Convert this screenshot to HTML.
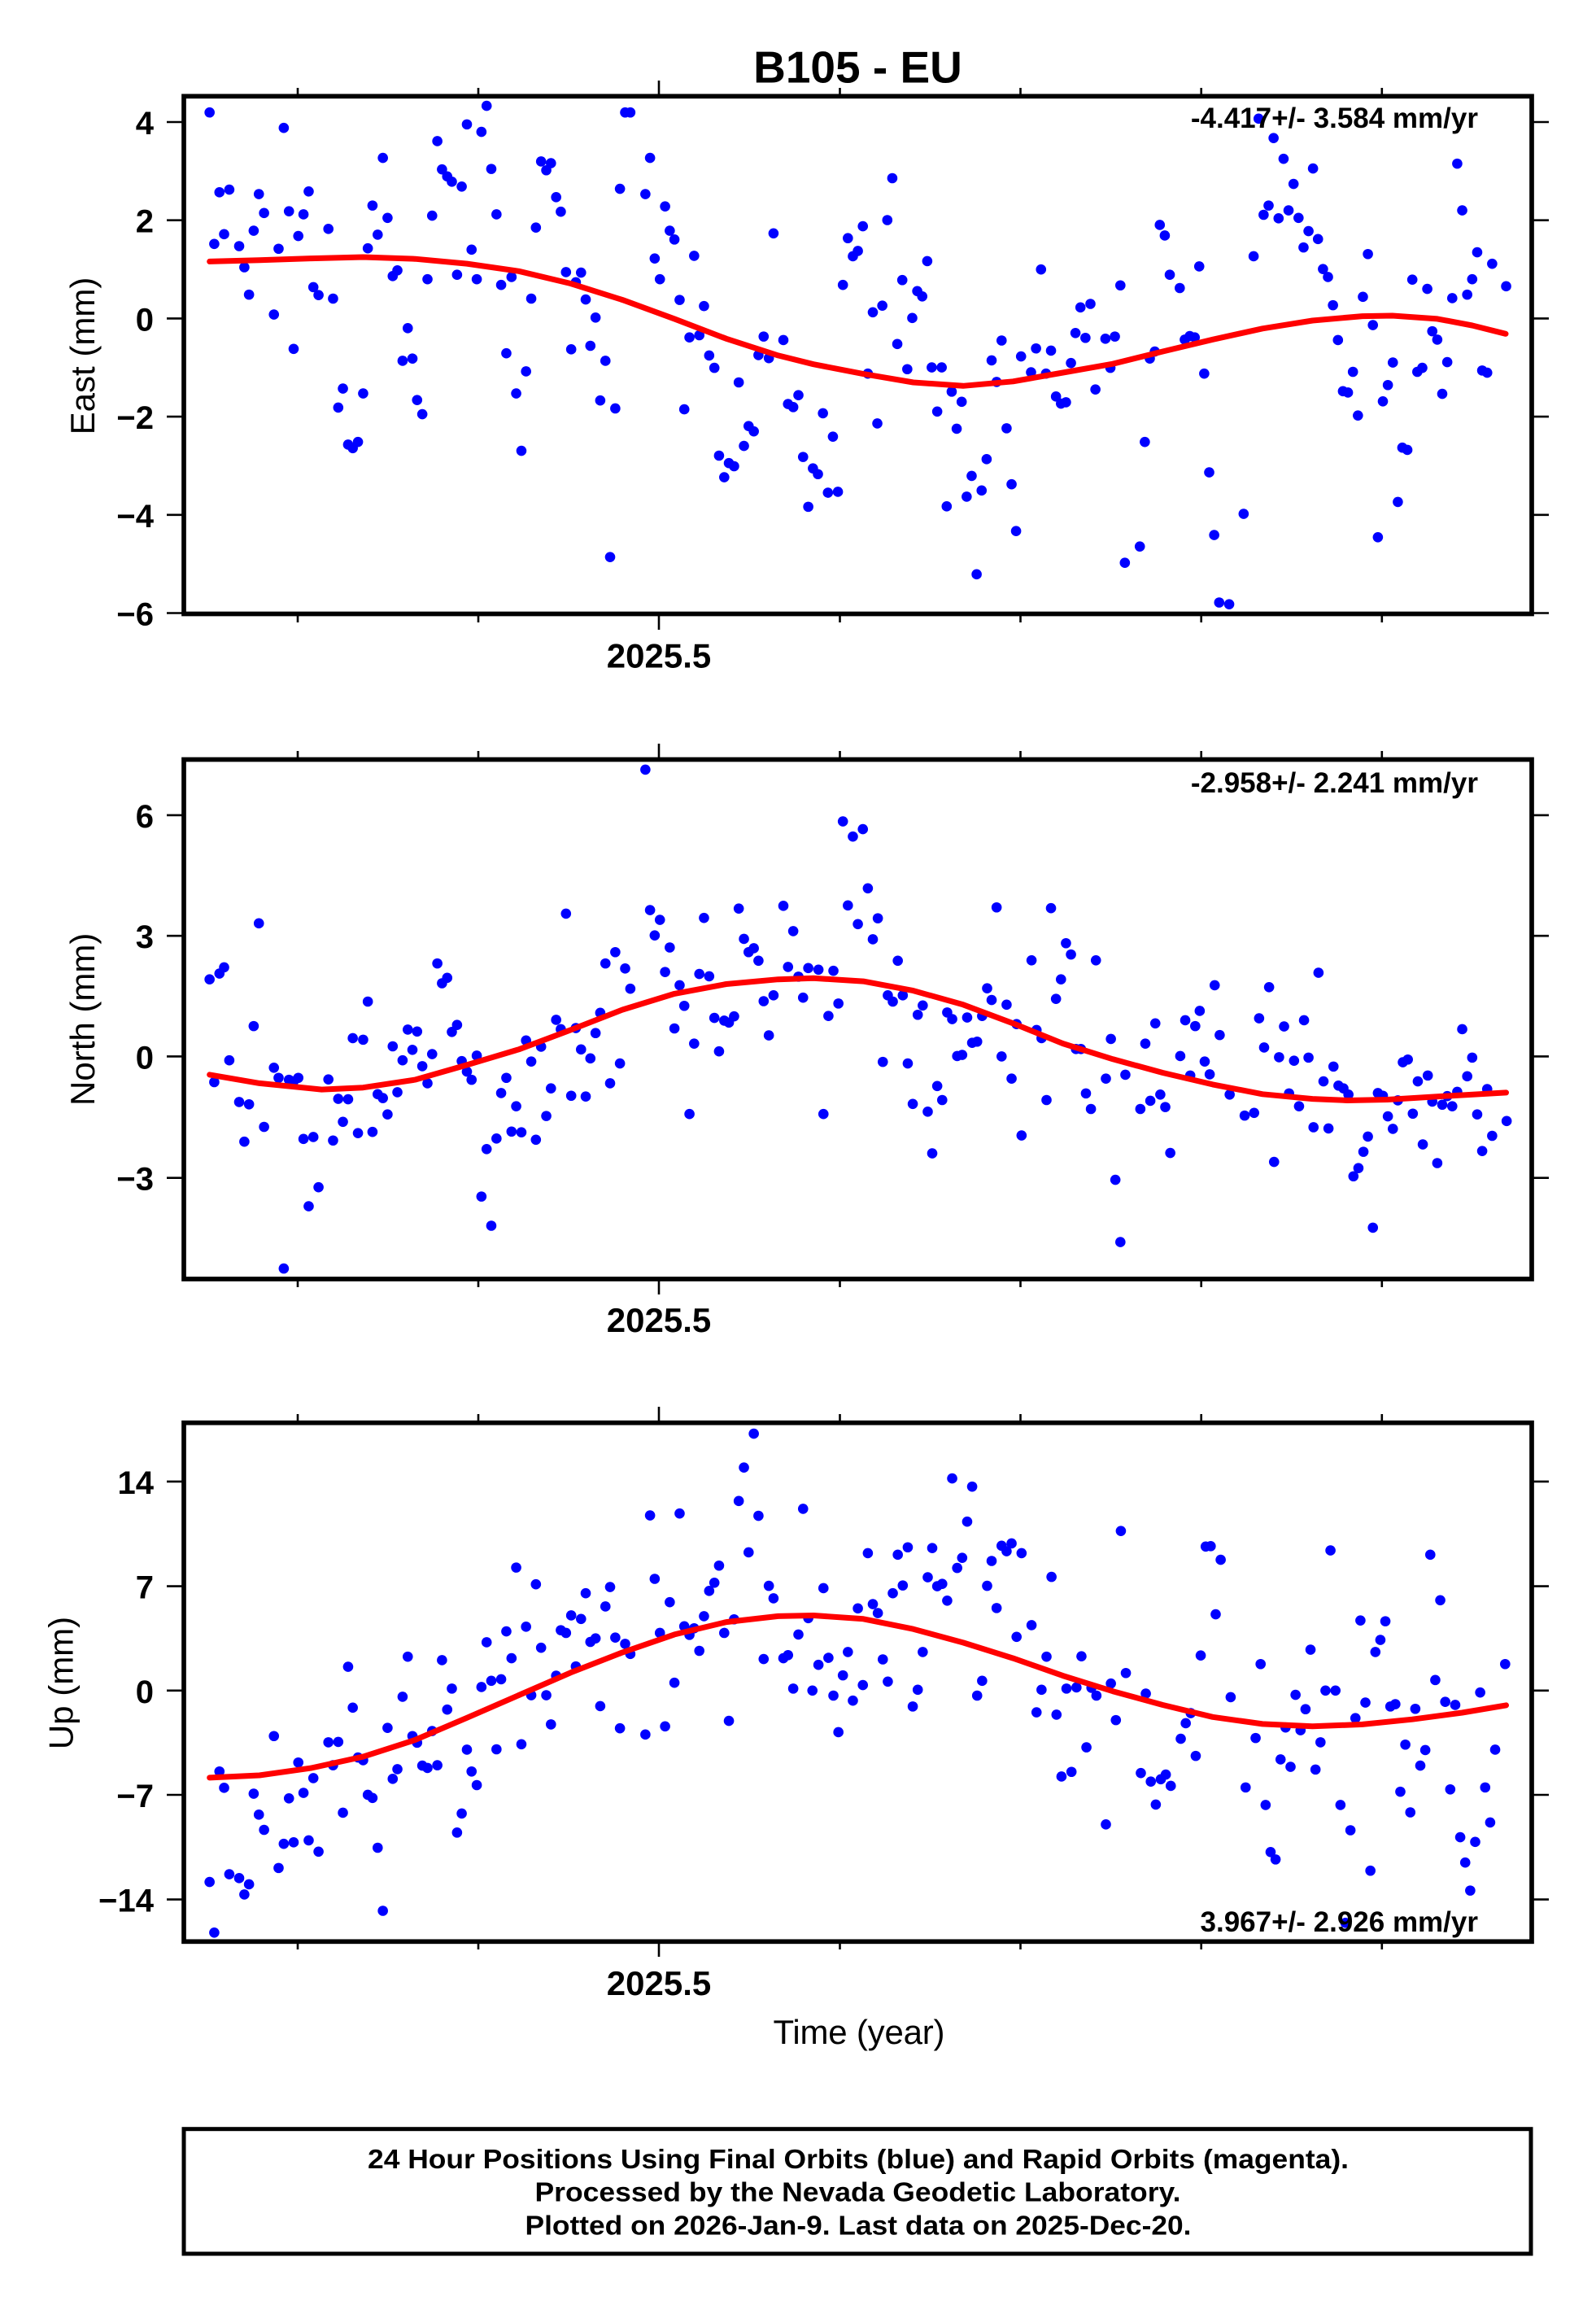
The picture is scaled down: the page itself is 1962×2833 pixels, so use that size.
<!DOCTYPE html>
<html><head><meta charset="utf-8"><style>html,body{margin:0;padding:0;background:#fff}svg{display:block}</style></head>
<body>
<svg xmlns="http://www.w3.org/2000/svg" width="1962" height="2833" viewBox="0 0 1962 2833" font-family="'Liberation Sans', Arial, sans-serif">
<rect width="1962" height="2833" fill="#fff"/>
<text x="1054.5" y="101.5" font-size="55" font-weight="bold" text-anchor="middle">B105 - EU</text>

<!-- ===== Panel 1 dots ===== -->
<g fill="#0000ff" transform="matrix(0.63776 0 0 0.5421 0 0)">
<ellipse cx="404" cy="255" rx="9.88" ry="11.62"/><ellipse cx="413" cy="553" rx="9.88" ry="11.62"/><ellipse cx="423" cy="436" rx="9.88" ry="11.62"/><ellipse cx="432" cy="531" rx="9.88" ry="11.62"/><ellipse cx="442" cy="430" rx="9.88" ry="11.62"/><ellipse cx="461" cy="558" rx="9.88" ry="11.62"/><ellipse cx="471" cy="606" rx="9.88" ry="11.62"/><ellipse cx="480" cy="668" rx="9.88" ry="11.62"/><ellipse cx="489" cy="523" rx="9.88" ry="11.62"/><ellipse cx="499" cy="440" rx="9.88" ry="11.62"/><ellipse cx="509" cy="483" rx="9.88" ry="11.62"/><ellipse cx="528" cy="713" rx="9.88" ry="11.62"/><ellipse cx="537" cy="564" rx="9.88" ry="11.62"/><ellipse cx="547" cy="290" rx="9.88" ry="11.62"/><ellipse cx="557" cy="479" rx="9.88" ry="11.62"/><ellipse cx="566" cy="791" rx="9.88" ry="11.62"/><ellipse cx="575" cy="535" rx="9.88" ry="11.62"/><ellipse cx="585" cy="486" rx="9.88" ry="11.62"/><ellipse cx="595" cy="434" rx="9.88" ry="11.62"/><ellipse cx="604" cy="651" rx="9.88" ry="11.62"/><ellipse cx="614" cy="669" rx="9.88" ry="11.62"/><ellipse cx="633" cy="519" rx="9.88" ry="11.62"/><ellipse cx="642" cy="677" rx="9.88" ry="11.62"/><ellipse cx="652" cy="924" rx="9.88" ry="11.62"/><ellipse cx="661" cy="881" rx="9.88" ry="11.62"/><ellipse cx="671" cy="1008" rx="9.88" ry="11.62"/><ellipse cx="680" cy="1016" rx="9.88" ry="11.62"/><ellipse cx="690" cy="1002" rx="9.88" ry="11.62"/><ellipse cx="700" cy="892" rx="9.88" ry="11.62"/><ellipse cx="709" cy="563" rx="9.88" ry="11.62"/><ellipse cx="718" cy="466" rx="9.88" ry="11.62"/><ellipse cx="728" cy="532" rx="9.88" ry="11.62"/><ellipse cx="738" cy="358" rx="9.88" ry="11.62"/><ellipse cx="747" cy="494" rx="9.88" ry="11.62"/><ellipse cx="757" cy="626" rx="9.88" ry="11.62"/><ellipse cx="766" cy="613" rx="9.88" ry="11.62"/><ellipse cx="776" cy="818" rx="9.88" ry="11.62"/><ellipse cx="786" cy="744" rx="9.88" ry="11.62"/><ellipse cx="795" cy="813" rx="9.88" ry="11.62"/><ellipse cx="804" cy="907" rx="9.88" ry="11.62"/><ellipse cx="814" cy="939" rx="9.88" ry="11.62"/><ellipse cx="824" cy="633" rx="9.88" ry="11.62"/><ellipse cx="833" cy="489" rx="9.88" ry="11.62"/><ellipse cx="843" cy="320" rx="9.88" ry="11.62"/><ellipse cx="852" cy="384" rx="9.88" ry="11.62"/><ellipse cx="862" cy="400" rx="9.88" ry="11.62"/><ellipse cx="871" cy="412" rx="9.88" ry="11.62"/><ellipse cx="881" cy="623" rx="9.88" ry="11.62"/><ellipse cx="890" cy="423" rx="9.88" ry="11.62"/><ellipse cx="900" cy="282" rx="9.88" ry="11.62"/><ellipse cx="909" cy="566" rx="9.88" ry="11.62"/><ellipse cx="919" cy="633" rx="9.88" ry="11.62"/><ellipse cx="928" cy="299" rx="9.88" ry="11.62"/><ellipse cx="938" cy="240" rx="9.88" ry="11.62"/><ellipse cx="947" cy="383" rx="9.88" ry="11.62"/><ellipse cx="957" cy="486" rx="9.88" ry="11.62"/><ellipse cx="966" cy="646" rx="9.88" ry="11.62"/><ellipse cx="976" cy="801" rx="9.88" ry="11.62"/><ellipse cx="986" cy="628" rx="9.88" ry="11.62"/><ellipse cx="995" cy="892" rx="9.88" ry="11.62"/><ellipse cx="1005" cy="1022" rx="9.88" ry="11.62"/><ellipse cx="1014" cy="842" rx="9.88" ry="11.62"/><ellipse cx="1024" cy="677" rx="9.88" ry="11.62"/><ellipse cx="1033" cy="516" rx="9.88" ry="11.62"/><ellipse cx="1043" cy="366" rx="9.88" ry="11.62"/><ellipse cx="1053" cy="386" rx="9.88" ry="11.62"/><ellipse cx="1062" cy="370" rx="9.88" ry="11.62"/><ellipse cx="1072" cy="447" rx="9.88" ry="11.62"/><ellipse cx="1081" cy="480" rx="9.88" ry="11.62"/><ellipse cx="1091" cy="617" rx="9.88" ry="11.62"/><ellipse cx="1101" cy="792" rx="9.88" ry="11.62"/><ellipse cx="1110" cy="640" rx="9.88" ry="11.62"/><ellipse cx="1120" cy="618" rx="9.88" ry="11.62"/><ellipse cx="1129" cy="679" rx="9.88" ry="11.62"/><ellipse cx="1138" cy="784" rx="9.88" ry="11.62"/><ellipse cx="1148" cy="720" rx="9.88" ry="11.62"/><ellipse cx="1157" cy="908" rx="9.88" ry="11.62"/><ellipse cx="1167" cy="818" rx="9.88" ry="11.62"/><ellipse cx="1176" cy="1263" rx="9.88" ry="11.62"/><ellipse cx="1186" cy="926" rx="9.88" ry="11.62"/><ellipse cx="1195" cy="428" rx="9.88" ry="11.62"/><ellipse cx="1205" cy="255" rx="9.88" ry="11.62"/><ellipse cx="1215" cy="255" rx="9.88" ry="11.62"/><ellipse cx="1244" cy="440" rx="9.88" ry="11.62"/><ellipse cx="1253" cy="358" rx="9.88" ry="11.62"/><ellipse cx="1262" cy="586" rx="9.88" ry="11.62"/><ellipse cx="1272" cy="633" rx="9.88" ry="11.62"/><ellipse cx="1282" cy="468" rx="9.88" ry="11.62"/><ellipse cx="1291" cy="523" rx="9.88" ry="11.62"/><ellipse cx="1300" cy="543" rx="9.88" ry="11.62"/><ellipse cx="1310" cy="680" rx="9.88" ry="11.62"/><ellipse cx="1319" cy="928" rx="9.88" ry="11.62"/><ellipse cx="1329" cy="765" rx="9.88" ry="11.62"/><ellipse cx="1338" cy="580" rx="9.88" ry="11.62"/><ellipse cx="1348" cy="760" rx="9.88" ry="11.62"/><ellipse cx="1357" cy="694" rx="9.88" ry="11.62"/><ellipse cx="1367" cy="806" rx="9.88" ry="11.62"/><ellipse cx="1377" cy="834" rx="9.88" ry="11.62"/><ellipse cx="1386" cy="1033" rx="9.88" ry="11.62"/><ellipse cx="1396" cy="1082" rx="9.88" ry="11.62"/><ellipse cx="1405" cy="1050" rx="9.88" ry="11.62"/><ellipse cx="1415" cy="1057" rx="9.88" ry="11.62"/><ellipse cx="1424" cy="867" rx="9.88" ry="11.62"/><ellipse cx="1434" cy="1011" rx="9.88" ry="11.62"/><ellipse cx="1443" cy="966" rx="9.88" ry="11.62"/><ellipse cx="1453" cy="978" rx="9.88" ry="11.62"/><ellipse cx="1462" cy="805" rx="9.88" ry="11.62"/><ellipse cx="1472" cy="763" rx="9.88" ry="11.62"/><ellipse cx="1482" cy="812" rx="9.88" ry="11.62"/><ellipse cx="1491" cy="529" rx="9.88" ry="11.62"/><ellipse cx="1510" cy="771" rx="9.88" ry="11.62"/><ellipse cx="1519" cy="916" rx="9.88" ry="11.62"/><ellipse cx="1529" cy="923" rx="9.88" ry="11.62"/><ellipse cx="1539" cy="896" rx="9.88" ry="11.62"/><ellipse cx="1548" cy="1036" rx="9.88" ry="11.62"/><ellipse cx="1558" cy="1149" rx="9.88" ry="11.62"/><ellipse cx="1567" cy="1062" rx="9.88" ry="11.62"/>
</g>
<g fill="#0000ff" transform="matrix(0.6135 0 0 0.5421 1000 0)">
<ellipse cx="9" cy="1075" rx="10.27" ry="11.62"/><ellipse cx="19" cy="937" rx="10.27" ry="11.62"/><ellipse cx="29" cy="1117" rx="10.27" ry="11.62"/><ellipse cx="39" cy="990" rx="10.27" ry="11.62"/><ellipse cx="49" cy="1115" rx="10.27" ry="11.62"/><ellipse cx="59" cy="646" rx="10.27" ry="11.62"/><ellipse cx="69" cy="540" rx="10.27" ry="11.62"/><ellipse cx="79" cy="581" rx="10.27" ry="11.62"/><ellipse cx="89" cy="569" rx="10.27" ry="11.62"/><ellipse cx="99" cy="513" rx="10.27" ry="11.62"/><ellipse cx="109" cy="847" rx="10.27" ry="11.62"/><ellipse cx="119" cy="708" rx="10.27" ry="11.62"/><ellipse cx="128" cy="960" rx="10.27" ry="11.62"/><ellipse cx="138" cy="693" rx="10.27" ry="11.62"/><ellipse cx="148" cy="499" rx="10.27" ry="11.62"/><ellipse cx="158" cy="404" rx="10.27" ry="11.62"/><ellipse cx="168" cy="780" rx="10.27" ry="11.62"/><ellipse cx="178" cy="635" rx="10.27" ry="11.62"/><ellipse cx="188" cy="837" rx="10.27" ry="11.62"/><ellipse cx="198" cy="721" rx="10.27" ry="11.62"/><ellipse cx="208" cy="660" rx="10.27" ry="11.62"/><ellipse cx="218" cy="672" rx="10.27" ry="11.62"/><ellipse cx="228" cy="592" rx="10.27" ry="11.62"/><ellipse cx="237" cy="833" rx="10.27" ry="11.62"/><ellipse cx="248" cy="933" rx="10.27" ry="11.62"/><ellipse cx="257" cy="833" rx="10.27" ry="11.62"/><ellipse cx="267" cy="1148" rx="10.27" ry="11.62"/><ellipse cx="277" cy="888" rx="10.27" ry="11.62"/><ellipse cx="287" cy="972" rx="10.27" ry="11.62"/><ellipse cx="297" cy="911" rx="10.27" ry="11.62"/><ellipse cx="307" cy="1126" rx="10.27" ry="11.62"/><ellipse cx="317" cy="1079" rx="10.27" ry="11.62"/><ellipse cx="327" cy="1302" rx="10.27" ry="11.62"/><ellipse cx="337" cy="1112" rx="10.27" ry="11.62"/><ellipse cx="347" cy="1041" rx="10.27" ry="11.62"/><ellipse cx="357" cy="817" rx="10.27" ry="11.62"/><ellipse cx="367" cy="866" rx="10.27" ry="11.62"/><ellipse cx="377" cy="772" rx="10.27" ry="11.62"/><ellipse cx="387" cy="971" rx="10.27" ry="11.62"/><ellipse cx="397" cy="1098" rx="10.27" ry="11.62"/><ellipse cx="406" cy="1204" rx="10.27" ry="11.62"/><ellipse cx="416" cy="808" rx="10.27" ry="11.62"/><ellipse cx="436" cy="844" rx="10.27" ry="11.62"/><ellipse cx="446" cy="790" rx="10.27" ry="11.62"/><ellipse cx="456" cy="611" rx="10.27" ry="11.62"/><ellipse cx="466" cy="847" rx="10.27" ry="11.62"/><ellipse cx="476" cy="795" rx="10.27" ry="11.62"/><ellipse cx="486" cy="899" rx="10.27" ry="11.62"/><ellipse cx="496" cy="915" rx="10.27" ry="11.62"/><ellipse cx="506" cy="912" rx="10.27" ry="11.62"/><ellipse cx="516" cy="823" rx="10.27" ry="11.62"/><ellipse cx="525" cy="755" rx="10.27" ry="11.62"/><ellipse cx="535" cy="697" rx="10.27" ry="11.62"/><ellipse cx="545" cy="766" rx="10.27" ry="11.62"/><ellipse cx="555" cy="689" rx="10.27" ry="11.62"/><ellipse cx="565" cy="883" rx="10.27" ry="11.62"/><ellipse cx="585" cy="768" rx="10.27" ry="11.62"/><ellipse cx="595" cy="834" rx="10.27" ry="11.62"/><ellipse cx="604" cy="763" rx="10.27" ry="11.62"/><ellipse cx="615" cy="647" rx="10.27" ry="11.62"/><ellipse cx="624" cy="1276" rx="10.27" ry="11.62"/><ellipse cx="654" cy="1239" rx="10.27" ry="11.62"/><ellipse cx="664" cy="1002" rx="10.27" ry="11.62"/><ellipse cx="674" cy="813" rx="10.27" ry="11.62"/><ellipse cx="684" cy="797" rx="10.27" ry="11.62"/><ellipse cx="694" cy="510" rx="10.27" ry="11.62"/><ellipse cx="704" cy="534" rx="10.27" ry="11.62"/><ellipse cx="714" cy="623" rx="10.27" ry="11.62"/><ellipse cx="734" cy="653" rx="10.27" ry="11.62"/><ellipse cx="744" cy="770" rx="10.27" ry="11.62"/><ellipse cx="754" cy="762" rx="10.27" ry="11.62"/><ellipse cx="764" cy="765" rx="10.27" ry="11.62"/><ellipse cx="773" cy="604" rx="10.27" ry="11.62"/><ellipse cx="783" cy="847" rx="10.27" ry="11.62"/><ellipse cx="793" cy="1071" rx="10.27" ry="11.62"/><ellipse cx="803" cy="1213" rx="10.27" ry="11.62"/><ellipse cx="813" cy="1366" rx="10.27" ry="11.62"/><ellipse cx="833" cy="1370" rx="10.27" ry="11.62"/><ellipse cx="862" cy="1165" rx="10.27" ry="11.62"/><ellipse cx="882" cy="581" rx="10.27" ry="11.62"/><ellipse cx="892" cy="269" rx="10.27" ry="11.62"/><ellipse cx="902" cy="487" rx="10.27" ry="11.62"/><ellipse cx="912" cy="466" rx="10.27" ry="11.62"/><ellipse cx="922" cy="313" rx="10.27" ry="11.62"/><ellipse cx="932" cy="495" rx="10.27" ry="11.62"/><ellipse cx="942" cy="360" rx="10.27" ry="11.62"/><ellipse cx="952" cy="477" rx="10.27" ry="11.62"/><ellipse cx="962" cy="417" rx="10.27" ry="11.62"/><ellipse cx="972" cy="494" rx="10.27" ry="11.62"/><ellipse cx="982" cy="561" rx="10.27" ry="11.62"/><ellipse cx="992" cy="524" rx="10.27" ry="11.62"/><ellipse cx="1001" cy="382" rx="10.27" ry="11.62"/><ellipse cx="1011" cy="542" rx="10.27" ry="11.62"/><ellipse cx="1021" cy="610" rx="10.27" ry="11.62"/><ellipse cx="1031" cy="628" rx="10.27" ry="11.62"/><ellipse cx="1041" cy="692" rx="10.27" ry="11.62"/><ellipse cx="1051" cy="771" rx="10.27" ry="11.62"/><ellipse cx="1061" cy="887" rx="10.27" ry="11.62"/><ellipse cx="1071" cy="890" rx="10.27" ry="11.62"/><ellipse cx="1081" cy="843" rx="10.27" ry="11.62"/><ellipse cx="1091" cy="942" rx="10.27" ry="11.62"/><ellipse cx="1101" cy="673" rx="10.27" ry="11.62"/><ellipse cx="1111" cy="576" rx="10.27" ry="11.62"/><ellipse cx="1121" cy="737" rx="10.27" ry="11.62"/><ellipse cx="1131" cy="1218" rx="10.27" ry="11.62"/><ellipse cx="1141" cy="910" rx="10.27" ry="11.62"/><ellipse cx="1151" cy="873" rx="10.27" ry="11.62"/><ellipse cx="1161" cy="822" rx="10.27" ry="11.62"/><ellipse cx="1171" cy="1138" rx="10.27" ry="11.62"/><ellipse cx="1180" cy="1015" rx="10.27" ry="11.62"/><ellipse cx="1190" cy="1020" rx="10.27" ry="11.62"/><ellipse cx="1200" cy="634" rx="10.27" ry="11.62"/><ellipse cx="1210" cy="843" rx="10.27" ry="11.62"/><ellipse cx="1220" cy="834" rx="10.27" ry="11.62"/><ellipse cx="1230" cy="655" rx="10.27" ry="11.62"/><ellipse cx="1240" cy="751" rx="10.27" ry="11.62"/><ellipse cx="1250" cy="770" rx="10.27" ry="11.62"/><ellipse cx="1260" cy="893" rx="10.27" ry="11.62"/><ellipse cx="1270" cy="821" rx="10.27" ry="11.62"/><ellipse cx="1280" cy="676" rx="10.27" ry="11.62"/><ellipse cx="1290" cy="371" rx="10.27" ry="11.62"/><ellipse cx="1300" cy="477" rx="10.27" ry="11.62"/><ellipse cx="1310" cy="668" rx="10.27" ry="11.62"/><ellipse cx="1320" cy="633" rx="10.27" ry="11.62"/><ellipse cx="1330" cy="572" rx="10.27" ry="11.62"/><ellipse cx="1340" cy="840" rx="10.27" ry="11.62"/><ellipse cx="1350" cy="845" rx="10.27" ry="11.62"/><ellipse cx="1360" cy="598" rx="10.27" ry="11.62"/><ellipse cx="1388" cy="649" rx="10.27" ry="11.62"/>
</g>
<polyline fill="none" stroke="#ff0000" stroke-width="7" stroke-linejoin="round" stroke-linecap="round" points="257.7,321.4 318.9,319.8 382.7,317.6 446.4,316 510.2,318.2 574,324.1 637.8,333.3 701.5,348.5 765.3,368.6 829.1,391.9 892.9,416.3 956.6,436.9 1000,447.7 1061.3,459.6 1122.7,470 1184,474.3 1245.4,468.8 1306.7,458 1368,447.2 1429.4,432 1490.8,417.3 1552.1,403.8 1613.5,394 1674.8,388.6 1711.7,388 1766.9,391.9 1809.8,400 1851,410.3"/>

<!-- ===== Panel 2 dots ===== -->
<g fill="#0000ff" transform="matrix(0.63776 0 0 0.47831 0 900)">
<ellipse cx="404" cy="635" rx="9.88" ry="13.17"/><ellipse cx="413" cy="899" rx="9.88" ry="13.17"/><ellipse cx="423" cy="620" rx="9.88" ry="13.17"/><ellipse cx="432" cy="604" rx="9.88" ry="13.17"/><ellipse cx="442" cy="843" rx="9.88" ry="13.17"/><ellipse cx="461" cy="950" rx="9.88" ry="13.17"/><ellipse cx="471" cy="1052" rx="9.88" ry="13.17"/><ellipse cx="480" cy="956" rx="9.88" ry="13.17"/><ellipse cx="489" cy="755" rx="9.88" ry="13.17"/><ellipse cx="499" cy="491" rx="9.88" ry="13.17"/><ellipse cx="509" cy="1014" rx="9.88" ry="13.17"/><ellipse cx="528" cy="862" rx="9.88" ry="13.17"/><ellipse cx="537" cy="888" rx="9.88" ry="13.17"/><ellipse cx="547" cy="1378" rx="9.88" ry="13.17"/><ellipse cx="557" cy="893" rx="9.88" ry="13.17"/><ellipse cx="566" cy="897" rx="9.88" ry="13.17"/><ellipse cx="575" cy="888" rx="9.88" ry="13.17"/><ellipse cx="585" cy="1045" rx="9.88" ry="13.17"/><ellipse cx="595" cy="1218" rx="9.88" ry="13.17"/><ellipse cx="604" cy="1040" rx="9.88" ry="13.17"/><ellipse cx="614" cy="1169" rx="9.88" ry="13.17"/><ellipse cx="633" cy="892" rx="9.88" ry="13.17"/><ellipse cx="642" cy="1049" rx="9.88" ry="13.17"/><ellipse cx="652" cy="942" rx="9.88" ry="13.17"/><ellipse cx="661" cy="1001" rx="9.88" ry="13.17"/><ellipse cx="671" cy="943" rx="9.88" ry="13.17"/><ellipse cx="680" cy="786" rx="9.88" ry="13.17"/><ellipse cx="690" cy="1030" rx="9.88" ry="13.17"/><ellipse cx="700" cy="790" rx="9.88" ry="13.17"/><ellipse cx="709" cy="692" rx="9.88" ry="13.17"/><ellipse cx="718" cy="1027" rx="9.88" ry="13.17"/><ellipse cx="728" cy="930" rx="9.88" ry="13.17"/><ellipse cx="738" cy="940" rx="9.88" ry="13.17"/><ellipse cx="747" cy="982" rx="9.88" ry="13.17"/><ellipse cx="757" cy="807" rx="9.88" ry="13.17"/><ellipse cx="766" cy="925" rx="9.88" ry="13.17"/><ellipse cx="776" cy="843" rx="9.88" ry="13.17"/><ellipse cx="786" cy="764" rx="9.88" ry="13.17"/><ellipse cx="795" cy="816" rx="9.88" ry="13.17"/><ellipse cx="804" cy="769" rx="9.88" ry="13.17"/><ellipse cx="814" cy="858" rx="9.88" ry="13.17"/><ellipse cx="824" cy="902" rx="9.88" ry="13.17"/><ellipse cx="833" cy="827" rx="9.88" ry="13.17"/><ellipse cx="843" cy="594" rx="9.88" ry="13.17"/><ellipse cx="852" cy="645" rx="9.88" ry="13.17"/><ellipse cx="862" cy="631" rx="9.88" ry="13.17"/><ellipse cx="871" cy="770" rx="9.88" ry="13.17"/><ellipse cx="881" cy="752" rx="9.88" ry="13.17"/><ellipse cx="890" cy="845" rx="9.88" ry="13.17"/><ellipse cx="900" cy="872" rx="9.88" ry="13.17"/><ellipse cx="909" cy="893" rx="9.88" ry="13.17"/><ellipse cx="919" cy="831" rx="9.88" ry="13.17"/><ellipse cx="928" cy="1193" rx="9.88" ry="13.17"/><ellipse cx="938" cy="1071" rx="9.88" ry="13.17"/><ellipse cx="947" cy="1268" rx="9.88" ry="13.17"/><ellipse cx="957" cy="1044" rx="9.88" ry="13.17"/><ellipse cx="966" cy="927" rx="9.88" ry="13.17"/><ellipse cx="976" cy="888" rx="9.88" ry="13.17"/><ellipse cx="986" cy="1026" rx="9.88" ry="13.17"/><ellipse cx="995" cy="961" rx="9.88" ry="13.17"/><ellipse cx="1005" cy="1028" rx="9.88" ry="13.17"/><ellipse cx="1014" cy="792" rx="9.88" ry="13.17"/><ellipse cx="1024" cy="846" rx="9.88" ry="13.17"/><ellipse cx="1033" cy="1047" rx="9.88" ry="13.17"/><ellipse cx="1043" cy="808" rx="9.88" ry="13.17"/><ellipse cx="1053" cy="986" rx="9.88" ry="13.17"/><ellipse cx="1062" cy="915" rx="9.88" ry="13.17"/><ellipse cx="1072" cy="739" rx="9.88" ry="13.17"/><ellipse cx="1081" cy="763" rx="9.88" ry="13.17"/><ellipse cx="1091" cy="466" rx="9.88" ry="13.17"/><ellipse cx="1101" cy="934" rx="9.88" ry="13.17"/><ellipse cx="1110" cy="760" rx="9.88" ry="13.17"/><ellipse cx="1120" cy="815" rx="9.88" ry="13.17"/><ellipse cx="1129" cy="936" rx="9.88" ry="13.17"/><ellipse cx="1138" cy="838" rx="9.88" ry="13.17"/><ellipse cx="1148" cy="773" rx="9.88" ry="13.17"/><ellipse cx="1157" cy="721" rx="9.88" ry="13.17"/><ellipse cx="1167" cy="594" rx="9.88" ry="13.17"/><ellipse cx="1176" cy="902" rx="9.88" ry="13.17"/><ellipse cx="1186" cy="565" rx="9.88" ry="13.17"/><ellipse cx="1195" cy="851" rx="9.88" ry="13.17"/><ellipse cx="1205" cy="607" rx="9.88" ry="13.17"/><ellipse cx="1215" cy="659" rx="9.88" ry="13.17"/><ellipse cx="1244" cy="96" rx="9.88" ry="13.17"/><ellipse cx="1253" cy="457" rx="9.88" ry="13.17"/><ellipse cx="1262" cy="522" rx="9.88" ry="13.17"/><ellipse cx="1272" cy="482" rx="9.88" ry="13.17"/><ellipse cx="1282" cy="616" rx="9.88" ry="13.17"/><ellipse cx="1291" cy="553" rx="9.88" ry="13.17"/><ellipse cx="1300" cy="761" rx="9.88" ry="13.17"/><ellipse cx="1310" cy="650" rx="9.88" ry="13.17"/><ellipse cx="1319" cy="703" rx="9.88" ry="13.17"/><ellipse cx="1329" cy="981" rx="9.88" ry="13.17"/><ellipse cx="1338" cy="800" rx="9.88" ry="13.17"/><ellipse cx="1348" cy="621" rx="9.88" ry="13.17"/><ellipse cx="1357" cy="477" rx="9.88" ry="13.17"/><ellipse cx="1367" cy="627" rx="9.88" ry="13.17"/><ellipse cx="1377" cy="734" rx="9.88" ry="13.17"/><ellipse cx="1386" cy="820" rx="9.88" ry="13.17"/><ellipse cx="1396" cy="741" rx="9.88" ry="13.17"/><ellipse cx="1405" cy="746" rx="9.88" ry="13.17"/><ellipse cx="1415" cy="730" rx="9.88" ry="13.17"/><ellipse cx="1424" cy="453" rx="9.88" ry="13.17"/><ellipse cx="1434" cy="531" rx="9.88" ry="13.17"/><ellipse cx="1443" cy="565" rx="9.88" ry="13.17"/><ellipse cx="1453" cy="555" rx="9.88" ry="13.17"/><ellipse cx="1462" cy="587" rx="9.88" ry="13.17"/><ellipse cx="1472" cy="691" rx="9.88" ry="13.17"/><ellipse cx="1482" cy="779" rx="9.88" ry="13.17"/><ellipse cx="1491" cy="676" rx="9.88" ry="13.17"/><ellipse cx="1510" cy="446" rx="9.88" ry="13.17"/><ellipse cx="1519" cy="603" rx="9.88" ry="13.17"/><ellipse cx="1529" cy="511" rx="9.88" ry="13.17"/><ellipse cx="1539" cy="628" rx="9.88" ry="13.17"/><ellipse cx="1548" cy="682" rx="9.88" ry="13.17"/><ellipse cx="1558" cy="606" rx="9.88" ry="13.17"/>
</g>
<g fill="#0000ff" transform="matrix(0.6135 0 0 0.47831 1000 900)">
<ellipse cx="10" cy="610" rx="10.27" ry="13.17"/><ellipse cx="20" cy="981" rx="10.27" ry="13.17"/><ellipse cx="30" cy="729" rx="10.27" ry="13.17"/><ellipse cx="40" cy="613" rx="10.27" ry="13.17"/><ellipse cx="50" cy="697" rx="10.27" ry="13.17"/><ellipse cx="59" cy="229" rx="10.27" ry="13.17"/><ellipse cx="69" cy="445" rx="10.27" ry="13.17"/><ellipse cx="79" cy="268" rx="10.27" ry="13.17"/><ellipse cx="89" cy="493" rx="10.27" ry="13.17"/><ellipse cx="99" cy="249" rx="10.27" ry="13.17"/><ellipse cx="109" cy="401" rx="10.27" ry="13.17"/><ellipse cx="119" cy="532" rx="10.27" ry="13.17"/><ellipse cx="129" cy="478" rx="10.27" ry="13.17"/><ellipse cx="139" cy="847" rx="10.27" ry="13.17"/><ellipse cx="149" cy="676" rx="10.27" ry="13.17"/><ellipse cx="159" cy="692" rx="10.27" ry="13.17"/><ellipse cx="169" cy="587" rx="10.27" ry="13.17"/><ellipse cx="179" cy="676" rx="10.27" ry="13.17"/><ellipse cx="189" cy="851" rx="10.27" ry="13.17"/><ellipse cx="199" cy="955" rx="10.27" ry="13.17"/><ellipse cx="209" cy="726" rx="10.27" ry="13.17"/><ellipse cx="219" cy="702" rx="10.27" ry="13.17"/><ellipse cx="229" cy="975" rx="10.27" ry="13.17"/><ellipse cx="238" cy="1082" rx="10.27" ry="13.17"/><ellipse cx="248" cy="909" rx="10.27" ry="13.17"/><ellipse cx="258" cy="945" rx="10.27" ry="13.17"/><ellipse cx="268" cy="720" rx="10.27" ry="13.17"/><ellipse cx="278" cy="737" rx="10.27" ry="13.17"/><ellipse cx="288" cy="832" rx="10.27" ry="13.17"/><ellipse cx="298" cy="829" rx="10.27" ry="13.17"/><ellipse cx="308" cy="733" rx="10.27" ry="13.17"/><ellipse cx="318" cy="798" rx="10.27" ry="13.17"/><ellipse cx="328" cy="795" rx="10.27" ry="13.17"/><ellipse cx="338" cy="729" rx="10.27" ry="13.17"/><ellipse cx="348" cy="658" rx="10.27" ry="13.17"/><ellipse cx="357" cy="688" rx="10.27" ry="13.17"/><ellipse cx="367" cy="450" rx="10.27" ry="13.17"/><ellipse cx="377" cy="833" rx="10.27" ry="13.17"/><ellipse cx="387" cy="700" rx="10.27" ry="13.17"/><ellipse cx="397" cy="890" rx="10.27" ry="13.17"/><ellipse cx="407" cy="750" rx="10.27" ry="13.17"/><ellipse cx="417" cy="1036" rx="10.27" ry="13.17"/><ellipse cx="437" cy="586" rx="10.27" ry="13.17"/><ellipse cx="447" cy="765" rx="10.27" ry="13.17"/><ellipse cx="457" cy="786" rx="10.27" ry="13.17"/><ellipse cx="467" cy="945" rx="10.27" ry="13.17"/><ellipse cx="476" cy="452" rx="10.27" ry="13.17"/><ellipse cx="486" cy="685" rx="10.27" ry="13.17"/><ellipse cx="496" cy="635" rx="10.27" ry="13.17"/><ellipse cx="506" cy="542" rx="10.27" ry="13.17"/><ellipse cx="516" cy="571" rx="10.27" ry="13.17"/><ellipse cx="526" cy="814" rx="10.27" ry="13.17"/><ellipse cx="536" cy="814" rx="10.27" ry="13.17"/><ellipse cx="546" cy="928" rx="10.27" ry="13.17"/><ellipse cx="556" cy="968" rx="10.27" ry="13.17"/><ellipse cx="566" cy="586" rx="10.27" ry="13.17"/><ellipse cx="586" cy="890" rx="10.27" ry="13.17"/><ellipse cx="596" cy="788" rx="10.27" ry="13.17"/><ellipse cx="605" cy="1150" rx="10.27" ry="13.17"/><ellipse cx="615" cy="1310" rx="10.27" ry="13.17"/><ellipse cx="625" cy="880" rx="10.27" ry="13.17"/><ellipse cx="655" cy="968" rx="10.27" ry="13.17"/><ellipse cx="665" cy="800" rx="10.27" ry="13.17"/><ellipse cx="675" cy="947" rx="10.27" ry="13.17"/><ellipse cx="685" cy="748" rx="10.27" ry="13.17"/><ellipse cx="695" cy="931" rx="10.27" ry="13.17"/><ellipse cx="705" cy="963" rx="10.27" ry="13.17"/><ellipse cx="715" cy="1081" rx="10.27" ry="13.17"/><ellipse cx="735" cy="832" rx="10.27" ry="13.17"/><ellipse cx="745" cy="740" rx="10.27" ry="13.17"/><ellipse cx="755" cy="882" rx="10.27" ry="13.17"/><ellipse cx="765" cy="755" rx="10.27" ry="13.17"/><ellipse cx="774" cy="716" rx="10.27" ry="13.17"/><ellipse cx="784" cy="846" rx="10.27" ry="13.17"/><ellipse cx="794" cy="879" rx="10.27" ry="13.17"/><ellipse cx="804" cy="650" rx="10.27" ry="13.17"/><ellipse cx="814" cy="778" rx="10.27" ry="13.17"/><ellipse cx="834" cy="931" rx="10.27" ry="13.17"/><ellipse cx="864" cy="985" rx="10.27" ry="13.17"/><ellipse cx="883" cy="978" rx="10.27" ry="13.17"/><ellipse cx="893" cy="735" rx="10.27" ry="13.17"/><ellipse cx="903" cy="810" rx="10.27" ry="13.17"/><ellipse cx="913" cy="655" rx="10.27" ry="13.17"/><ellipse cx="923" cy="1104" rx="10.27" ry="13.17"/><ellipse cx="933" cy="835" rx="10.27" ry="13.17"/><ellipse cx="943" cy="756" rx="10.27" ry="13.17"/><ellipse cx="953" cy="928" rx="10.27" ry="13.17"/><ellipse cx="963" cy="844" rx="10.27" ry="13.17"/><ellipse cx="973" cy="961" rx="10.27" ry="13.17"/><ellipse cx="983" cy="740" rx="10.27" ry="13.17"/><ellipse cx="992" cy="836" rx="10.27" ry="13.17"/><ellipse cx="1002" cy="1015" rx="10.27" ry="13.17"/><ellipse cx="1012" cy="618" rx="10.27" ry="13.17"/><ellipse cx="1022" cy="897" rx="10.27" ry="13.17"/><ellipse cx="1032" cy="1018" rx="10.27" ry="13.17"/><ellipse cx="1042" cy="859" rx="10.27" ry="13.17"/><ellipse cx="1052" cy="908" rx="10.27" ry="13.17"/><ellipse cx="1062" cy="915" rx="10.27" ry="13.17"/><ellipse cx="1072" cy="931" rx="10.27" ry="13.17"/><ellipse cx="1082" cy="1141" rx="10.27" ry="13.17"/><ellipse cx="1092" cy="1120" rx="10.27" ry="13.17"/><ellipse cx="1102" cy="1078" rx="10.27" ry="13.17"/><ellipse cx="1111" cy="1039" rx="10.27" ry="13.17"/><ellipse cx="1121" cy="1273" rx="10.27" ry="13.17"/><ellipse cx="1131" cy="927" rx="10.27" ry="13.17"/><ellipse cx="1141" cy="934" rx="10.27" ry="13.17"/><ellipse cx="1151" cy="987" rx="10.27" ry="13.17"/><ellipse cx="1161" cy="1019" rx="10.27" ry="13.17"/><ellipse cx="1171" cy="946" rx="10.27" ry="13.17"/><ellipse cx="1181" cy="848" rx="10.27" ry="13.17"/><ellipse cx="1191" cy="841" rx="10.27" ry="13.17"/><ellipse cx="1201" cy="980" rx="10.27" ry="13.17"/><ellipse cx="1211" cy="897" rx="10.27" ry="13.17"/><ellipse cx="1221" cy="1059" rx="10.27" ry="13.17"/><ellipse cx="1231" cy="882" rx="10.27" ry="13.17"/><ellipse cx="1240" cy="949" rx="10.27" ry="13.17"/><ellipse cx="1250" cy="1107" rx="10.27" ry="13.17"/><ellipse cx="1260" cy="957" rx="10.27" ry="13.17"/><ellipse cx="1270" cy="935" rx="10.27" ry="13.17"/><ellipse cx="1280" cy="961" rx="10.27" ry="13.17"/><ellipse cx="1290" cy="924" rx="10.27" ry="13.17"/><ellipse cx="1300" cy="763" rx="10.27" ry="13.17"/><ellipse cx="1310" cy="884" rx="10.27" ry="13.17"/><ellipse cx="1320" cy="836" rx="10.27" ry="13.17"/><ellipse cx="1330" cy="982" rx="10.27" ry="13.17"/><ellipse cx="1340" cy="1076" rx="10.27" ry="13.17"/><ellipse cx="1350" cy="917" rx="10.27" ry="13.17"/><ellipse cx="1360" cy="1037" rx="10.27" ry="13.17"/><ellipse cx="1389" cy="999" rx="10.27" ry="13.17"/>
</g>
<polyline fill="none" stroke="#ff0000" stroke-width="7" stroke-linejoin="round" stroke-linecap="round" points="257.7,1320.9 318.9,1331.4 395.4,1339.1 446.4,1336.7 510.2,1327.1 574,1308.9 637.8,1289.8 701.5,1265.9 765.3,1241 829.1,1221.4 892.9,1209.5 956.6,1203.7 1000,1202.3 1061.3,1206.1 1122.7,1217.6 1184,1234.8 1245.4,1257.8 1306.7,1282.6 1368.1,1301.8 1429.4,1318.5 1490.8,1332.9 1552.1,1344.8 1613.5,1350.6 1656.4,1352.5 1705.5,1351.5 1766.9,1347.7 1851.5,1342.9"/>

<!-- ===== Panel 3 dots ===== -->
<g fill="#0000ff" transform="matrix(0.63776 0 0 0.47831 0 1720)">
<ellipse cx="404" cy="1240" rx="9.88" ry="13.17"/><ellipse cx="413" cy="1370" rx="9.88" ry="13.17"/><ellipse cx="423" cy="956" rx="9.88" ry="13.17"/><ellipse cx="432" cy="998" rx="9.88" ry="13.17"/><ellipse cx="442" cy="1220" rx="9.88" ry="13.17"/><ellipse cx="461" cy="1230" rx="9.88" ry="13.17"/><ellipse cx="471" cy="1272" rx="9.88" ry="13.17"/><ellipse cx="480" cy="1246" rx="9.88" ry="13.17"/><ellipse cx="489" cy="1013" rx="9.88" ry="13.17"/><ellipse cx="499" cy="1067" rx="9.88" ry="13.17"/><ellipse cx="509" cy="1106" rx="9.88" ry="13.17"/><ellipse cx="528" cy="865" rx="9.88" ry="13.17"/><ellipse cx="537" cy="1204" rx="9.88" ry="13.17"/><ellipse cx="547" cy="1142" rx="9.88" ry="13.17"/><ellipse cx="557" cy="1025" rx="9.88" ry="13.17"/><ellipse cx="566" cy="1138" rx="9.88" ry="13.17"/><ellipse cx="575" cy="933" rx="9.88" ry="13.17"/><ellipse cx="585" cy="1011" rx="9.88" ry="13.17"/><ellipse cx="595" cy="1133" rx="9.88" ry="13.17"/><ellipse cx="604" cy="973" rx="9.88" ry="13.17"/><ellipse cx="614" cy="1162" rx="9.88" ry="13.17"/><ellipse cx="633" cy="881" rx="9.88" ry="13.17"/><ellipse cx="642" cy="940" rx="9.88" ry="13.17"/><ellipse cx="652" cy="880" rx="9.88" ry="13.17"/><ellipse cx="661" cy="1062" rx="9.88" ry="13.17"/><ellipse cx="671" cy="687" rx="9.88" ry="13.17"/><ellipse cx="680" cy="792" rx="9.88" ry="13.17"/><ellipse cx="690" cy="920" rx="9.88" ry="13.17"/><ellipse cx="700" cy="927" rx="9.88" ry="13.17"/><ellipse cx="709" cy="1016" rx="9.88" ry="13.17"/><ellipse cx="718" cy="1024" rx="9.88" ry="13.17"/><ellipse cx="728" cy="1152" rx="9.88" ry="13.17"/><ellipse cx="738" cy="1314" rx="9.88" ry="13.17"/><ellipse cx="747" cy="844" rx="9.88" ry="13.17"/><ellipse cx="757" cy="975" rx="9.88" ry="13.17"/><ellipse cx="766" cy="950" rx="9.88" ry="13.17"/><ellipse cx="776" cy="764" rx="9.88" ry="13.17"/><ellipse cx="786" cy="661" rx="9.88" ry="13.17"/><ellipse cx="795" cy="865" rx="9.88" ry="13.17"/><ellipse cx="804" cy="882" rx="9.88" ry="13.17"/><ellipse cx="814" cy="941" rx="9.88" ry="13.17"/><ellipse cx="824" cy="947" rx="9.88" ry="13.17"/><ellipse cx="833" cy="852" rx="9.88" ry="13.17"/><ellipse cx="843" cy="940" rx="9.88" ry="13.17"/><ellipse cx="852" cy="670" rx="9.88" ry="13.17"/><ellipse cx="862" cy="797" rx="9.88" ry="13.17"/><ellipse cx="871" cy="743" rx="9.88" ry="13.17"/><ellipse cx="881" cy="1113" rx="9.88" ry="13.17"/><ellipse cx="890" cy="1064" rx="9.88" ry="13.17"/><ellipse cx="900" cy="900" rx="9.88" ry="13.17"/><ellipse cx="909" cy="956" rx="9.88" ry="13.17"/><ellipse cx="919" cy="991" rx="9.88" ry="13.17"/><ellipse cx="928" cy="739" rx="9.88" ry="13.17"/><ellipse cx="938" cy="624" rx="9.88" ry="13.17"/><ellipse cx="947" cy="723" rx="9.88" ry="13.17"/><ellipse cx="957" cy="899" rx="9.88" ry="13.17"/><ellipse cx="966" cy="719" rx="9.88" ry="13.17"/><ellipse cx="976" cy="596" rx="9.88" ry="13.17"/><ellipse cx="986" cy="665" rx="9.88" ry="13.17"/><ellipse cx="995" cy="432" rx="9.88" ry="13.17"/><ellipse cx="1005" cy="886" rx="9.88" ry="13.17"/><ellipse cx="1014" cy="584" rx="9.88" ry="13.17"/><ellipse cx="1024" cy="760" rx="9.88" ry="13.17"/><ellipse cx="1033" cy="475" rx="9.88" ry="13.17"/><ellipse cx="1043" cy="638" rx="9.88" ry="13.17"/><ellipse cx="1053" cy="760" rx="9.88" ry="13.17"/><ellipse cx="1062" cy="835" rx="9.88" ry="13.17"/><ellipse cx="1072" cy="710" rx="9.88" ry="13.17"/><ellipse cx="1081" cy="593" rx="9.88" ry="13.17"/><ellipse cx="1091" cy="600" rx="9.88" ry="13.17"/><ellipse cx="1101" cy="555" rx="9.88" ry="13.17"/><ellipse cx="1110" cy="686" rx="9.88" ry="13.17"/><ellipse cx="1120" cy="564" rx="9.88" ry="13.17"/><ellipse cx="1129" cy="498" rx="9.88" ry="13.17"/><ellipse cx="1138" cy="623" rx="9.88" ry="13.17"/><ellipse cx="1148" cy="614" rx="9.88" ry="13.17"/><ellipse cx="1157" cy="788" rx="9.88" ry="13.17"/><ellipse cx="1167" cy="532" rx="9.88" ry="13.17"/><ellipse cx="1176" cy="482" rx="9.88" ry="13.17"/><ellipse cx="1186" cy="612" rx="9.88" ry="13.17"/><ellipse cx="1195" cy="845" rx="9.88" ry="13.17"/><ellipse cx="1205" cy="628" rx="9.88" ry="13.17"/><ellipse cx="1215" cy="654" rx="9.88" ry="13.17"/><ellipse cx="1244" cy="861" rx="9.88" ry="13.17"/><ellipse cx="1253" cy="298" rx="9.88" ry="13.17"/><ellipse cx="1262" cy="461" rx="9.88" ry="13.17"/><ellipse cx="1272" cy="600" rx="9.88" ry="13.17"/><ellipse cx="1282" cy="840" rx="9.88" ry="13.17"/><ellipse cx="1291" cy="521" rx="9.88" ry="13.17"/><ellipse cx="1300" cy="728" rx="9.88" ry="13.17"/><ellipse cx="1310" cy="293" rx="9.88" ry="13.17"/><ellipse cx="1319" cy="583" rx="9.88" ry="13.17"/><ellipse cx="1329" cy="605" rx="9.88" ry="13.17"/><ellipse cx="1338" cy="588" rx="9.88" ry="13.17"/><ellipse cx="1348" cy="646" rx="9.88" ry="13.17"/><ellipse cx="1357" cy="557" rx="9.88" ry="13.17"/><ellipse cx="1367" cy="492" rx="9.88" ry="13.17"/><ellipse cx="1377" cy="471" rx="9.88" ry="13.17"/><ellipse cx="1386" cy="427" rx="9.88" ry="13.17"/><ellipse cx="1396" cy="600" rx="9.88" ry="13.17"/><ellipse cx="1405" cy="826" rx="9.88" ry="13.17"/><ellipse cx="1415" cy="565" rx="9.88" ry="13.17"/><ellipse cx="1424" cy="261" rx="9.88" ry="13.17"/><ellipse cx="1434" cy="175" rx="9.88" ry="13.17"/><ellipse cx="1443" cy="393" rx="9.88" ry="13.17"/><ellipse cx="1453" cy="88" rx="9.88" ry="13.17"/><ellipse cx="1462" cy="299" rx="9.88" ry="13.17"/><ellipse cx="1472" cy="667" rx="9.88" ry="13.17"/><ellipse cx="1482" cy="479" rx="9.88" ry="13.17"/><ellipse cx="1491" cy="511" rx="9.88" ry="13.17"/><ellipse cx="1510" cy="665" rx="9.88" ry="13.17"/><ellipse cx="1519" cy="657" rx="9.88" ry="13.17"/><ellipse cx="1529" cy="743" rx="9.88" ry="13.17"/><ellipse cx="1539" cy="604" rx="9.88" ry="13.17"/><ellipse cx="1548" cy="281" rx="9.88" ry="13.17"/><ellipse cx="1558" cy="562" rx="9.88" ry="13.17"/><ellipse cx="1566" cy="748" rx="9.88" ry="13.17"/>
</g>
<g fill="#0000ff" transform="matrix(0.6135 0 0 0.47831 1000 1720)">
<ellipse cx="10" cy="682" rx="10.27" ry="13.17"/><ellipse cx="20" cy="485" rx="10.27" ry="13.17"/><ellipse cx="30" cy="664" rx="10.27" ry="13.17"/><ellipse cx="40" cy="761" rx="10.27" ry="13.17"/><ellipse cx="50" cy="855" rx="10.27" ry="13.17"/><ellipse cx="59" cy="709" rx="10.27" ry="13.17"/><ellipse cx="69" cy="649" rx="10.27" ry="13.17"/><ellipse cx="79" cy="774" rx="10.27" ry="13.17"/><ellipse cx="89" cy="537" rx="10.27" ry="13.17"/><ellipse cx="99" cy="734" rx="10.27" ry="13.17"/><ellipse cx="109" cy="395" rx="10.27" ry="13.17"/><ellipse cx="119" cy="526" rx="10.27" ry="13.17"/><ellipse cx="129" cy="549" rx="10.27" ry="13.17"/><ellipse cx="139" cy="668" rx="10.27" ry="13.17"/><ellipse cx="149" cy="725" rx="10.27" ry="13.17"/><ellipse cx="159" cy="498" rx="10.27" ry="13.17"/><ellipse cx="169" cy="399" rx="10.27" ry="13.17"/><ellipse cx="179" cy="478" rx="10.27" ry="13.17"/><ellipse cx="189" cy="380" rx="10.27" ry="13.17"/><ellipse cx="199" cy="789" rx="10.27" ry="13.17"/><ellipse cx="209" cy="746" rx="10.27" ry="13.17"/><ellipse cx="219" cy="649" rx="10.27" ry="13.17"/><ellipse cx="229" cy="457" rx="10.27" ry="13.17"/><ellipse cx="238" cy="382" rx="10.27" ry="13.17"/><ellipse cx="248" cy="480" rx="10.27" ry="13.17"/><ellipse cx="258" cy="474" rx="10.27" ry="13.17"/><ellipse cx="268" cy="517" rx="10.27" ry="13.17"/><ellipse cx="278" cy="203" rx="10.27" ry="13.17"/><ellipse cx="288" cy="433" rx="10.27" ry="13.17"/><ellipse cx="298" cy="407" rx="10.27" ry="13.17"/><ellipse cx="308" cy="314" rx="10.27" ry="13.17"/><ellipse cx="318" cy="224" rx="10.27" ry="13.17"/><ellipse cx="328" cy="761" rx="10.27" ry="13.17"/><ellipse cx="338" cy="723" rx="10.27" ry="13.17"/><ellipse cx="348" cy="479" rx="10.27" ry="13.17"/><ellipse cx="357" cy="415" rx="10.27" ry="13.17"/><ellipse cx="367" cy="536" rx="10.27" ry="13.17"/><ellipse cx="377" cy="376" rx="10.27" ry="13.17"/><ellipse cx="387" cy="390" rx="10.27" ry="13.17"/><ellipse cx="397" cy="370" rx="10.27" ry="13.17"/><ellipse cx="407" cy="610" rx="10.27" ry="13.17"/><ellipse cx="417" cy="395" rx="10.27" ry="13.17"/><ellipse cx="437" cy="580" rx="10.27" ry="13.17"/><ellipse cx="447" cy="804" rx="10.27" ry="13.17"/><ellipse cx="457" cy="746" rx="10.27" ry="13.17"/><ellipse cx="467" cy="661" rx="10.27" ry="13.17"/><ellipse cx="477" cy="456" rx="10.27" ry="13.17"/><ellipse cx="487" cy="810" rx="10.27" ry="13.17"/><ellipse cx="497" cy="969" rx="10.27" ry="13.17"/><ellipse cx="507" cy="743" rx="10.27" ry="13.17"/><ellipse cx="517" cy="957" rx="10.27" ry="13.17"/><ellipse cx="527" cy="740" rx="10.27" ry="13.17"/><ellipse cx="537" cy="660" rx="10.27" ry="13.17"/><ellipse cx="547" cy="894" rx="10.27" ry="13.17"/><ellipse cx="557" cy="741" rx="10.27" ry="13.17"/><ellipse cx="567" cy="761" rx="10.27" ry="13.17"/><ellipse cx="586" cy="1092" rx="10.27" ry="13.17"/><ellipse cx="596" cy="730" rx="10.27" ry="13.17"/><ellipse cx="606" cy="824" rx="10.27" ry="13.17"/><ellipse cx="616" cy="338" rx="10.27" ry="13.17"/><ellipse cx="626" cy="703" rx="10.27" ry="13.17"/><ellipse cx="656" cy="960" rx="10.27" ry="13.17"/><ellipse cx="666" cy="756" rx="10.27" ry="13.17"/><ellipse cx="676" cy="982" rx="10.27" ry="13.17"/><ellipse cx="686" cy="1041" rx="10.27" ry="13.17"/><ellipse cx="696" cy="976" rx="10.27" ry="13.17"/><ellipse cx="706" cy="964" rx="10.27" ry="13.17"/><ellipse cx="716" cy="993" rx="10.27" ry="13.17"/><ellipse cx="736" cy="872" rx="10.27" ry="13.17"/><ellipse cx="746" cy="832" rx="10.27" ry="13.17"/><ellipse cx="756" cy="806" rx="10.27" ry="13.17"/><ellipse cx="766" cy="916" rx="10.27" ry="13.17"/><ellipse cx="776" cy="658" rx="10.27" ry="13.17"/><ellipse cx="786" cy="378" rx="10.27" ry="13.17"/><ellipse cx="796" cy="377" rx="10.27" ry="13.17"/><ellipse cx="806" cy="552" rx="10.27" ry="13.17"/><ellipse cx="816" cy="412" rx="10.27" ry="13.17"/><ellipse cx="836" cy="765" rx="10.27" ry="13.17"/><ellipse cx="866" cy="997" rx="10.27" ry="13.17"/><ellipse cx="886" cy="870" rx="10.27" ry="13.17"/><ellipse cx="896" cy="680" rx="10.27" ry="13.17"/><ellipse cx="906" cy="1042" rx="10.27" ry="13.17"/><ellipse cx="916" cy="1163" rx="10.27" ry="13.17"/><ellipse cx="926" cy="1182" rx="10.27" ry="13.17"/><ellipse cx="936" cy="925" rx="10.27" ry="13.17"/><ellipse cx="946" cy="843" rx="10.27" ry="13.17"/><ellipse cx="956" cy="944" rx="10.27" ry="13.17"/><ellipse cx="966" cy="759" rx="10.27" ry="13.17"/><ellipse cx="976" cy="850" rx="10.27" ry="13.17"/><ellipse cx="986" cy="796" rx="10.27" ry="13.17"/><ellipse cx="996" cy="643" rx="10.27" ry="13.17"/><ellipse cx="1006" cy="951" rx="10.27" ry="13.17"/><ellipse cx="1016" cy="881" rx="10.27" ry="13.17"/><ellipse cx="1026" cy="748" rx="10.27" ry="13.17"/><ellipse cx="1036" cy="388" rx="10.27" ry="13.17"/><ellipse cx="1046" cy="748" rx="10.27" ry="13.17"/><ellipse cx="1056" cy="1042" rx="10.27" ry="13.17"/><ellipse cx="1066" cy="1345" rx="10.27" ry="13.17"/><ellipse cx="1076" cy="1107" rx="10.27" ry="13.17"/><ellipse cx="1086" cy="819" rx="10.27" ry="13.17"/><ellipse cx="1096" cy="568" rx="10.27" ry="13.17"/><ellipse cx="1106" cy="779" rx="10.27" ry="13.17"/><ellipse cx="1116" cy="1211" rx="10.27" ry="13.17"/><ellipse cx="1126" cy="649" rx="10.27" ry="13.17"/><ellipse cx="1136" cy="618" rx="10.27" ry="13.17"/><ellipse cx="1146" cy="570" rx="10.27" ry="13.17"/><ellipse cx="1156" cy="789" rx="10.27" ry="13.17"/><ellipse cx="1166" cy="783" rx="10.27" ry="13.17"/><ellipse cx="1176" cy="1008" rx="10.27" ry="13.17"/><ellipse cx="1186" cy="887" rx="10.27" ry="13.17"/><ellipse cx="1196" cy="1061" rx="10.27" ry="13.17"/><ellipse cx="1206" cy="795" rx="10.27" ry="13.17"/><ellipse cx="1216" cy="941" rx="10.27" ry="13.17"/><ellipse cx="1226" cy="901" rx="10.27" ry="13.17"/><ellipse cx="1236" cy="399" rx="10.27" ry="13.17"/><ellipse cx="1246" cy="721" rx="10.27" ry="13.17"/><ellipse cx="1256" cy="516" rx="10.27" ry="13.17"/><ellipse cx="1266" cy="777" rx="10.27" ry="13.17"/><ellipse cx="1276" cy="1002" rx="10.27" ry="13.17"/><ellipse cx="1286" cy="785" rx="10.27" ry="13.17"/><ellipse cx="1296" cy="1125" rx="10.27" ry="13.17"/><ellipse cx="1306" cy="1190" rx="10.27" ry="13.17"/><ellipse cx="1316" cy="1262" rx="10.27" ry="13.17"/><ellipse cx="1326" cy="1137" rx="10.27" ry="13.17"/><ellipse cx="1336" cy="753" rx="10.27" ry="13.17"/><ellipse cx="1346" cy="997" rx="10.27" ry="13.17"/><ellipse cx="1356" cy="1087" rx="10.27" ry="13.17"/><ellipse cx="1366" cy="900" rx="10.27" ry="13.17"/><ellipse cx="1386" cy="680" rx="10.27" ry="13.17"/>
</g>
<polyline fill="none" stroke="#ff0000" stroke-width="7" stroke-linejoin="round" stroke-linecap="round" points="257.7,2184.9 318.9,2182 382.7,2173 446.4,2159.1 510.2,2138.5 574,2111.3 637.8,2083.5 701.5,2055.8 765.3,2030.9 829.1,2008.9 892.9,1993.6 956.6,1986.4 1000,1985.5 1061.3,1989.8 1122.7,2002.2 1184,2018.9 1245.4,2038.1 1306.7,2059.6 1368.1,2078.7 1429.4,2095.5 1490.8,2110.3 1552.1,2118.9 1613.5,2121.8 1674.8,2119.4 1736.2,2113.2 1797.5,2105 1851.5,2095.9"/>

<!-- ===== Frames and ticks ===== -->
<g fill="none" stroke="#000">
<rect x="226" y="118.3" width="1657" height="636.2" stroke-width="5.7"/>
<rect x="226" y="933.5" width="1657" height="638.5" stroke-width="5.7"/>
<rect x="226" y="1748.7" width="1657" height="637.6" stroke-width="5.7"/>
<path stroke-width="2.6" d="
M366 118.3V108M588 118.3V108M810 118.3V99M1032.5 118.3V108M1254.5 118.3V108M1476.7 118.3V108M1698.8 118.3V108
M366 754.5V765M588 754.5V765M810 754.5V774M1032.5 754.5V765M1254.5 754.5V765M1476.7 754.5V765M1698.8 754.5V765
M205 150H226M205 270.7H226M205 391.4H226M205 512.1H226M205 632.8H226M205 753.5H226
M1883 150H1904M1883 270.7H1904M1883 391.4H1904M1883 512.1H1904M1883 632.8H1904M1883 753.5H1904
M366 933.5V923M588 933.5V923M810 933.5V914M1032.5 933.5V923M1254.5 933.5V923M1476.7 933.5V923M1698.8 933.5V923
M366 1572V1582M588 1572V1582M810 1572V1591M1032.5 1572V1582M1254.5 1572V1582M1476.7 1572V1582M1698.8 1572V1582
M205 1001.9H226M205 1150.2H226M205 1298.4H226M205 1447.7H226
M1883 1001.9H1904M1883 1150.2H1904M1883 1298.4H1904M1883 1447.7H1904
M366 1748.7V1738M588 1748.7V1738M810 1748.7V1729M1032.5 1748.7V1738M1254.5 1748.7V1738M1476.7 1748.7V1738M1698.8 1748.7V1738
M366 2386.3V2396M588 2386.3V2396M810 2386.3V2405M1032.5 2386.3V2396M1254.5 2386.3V2396M1476.7 2386.3V2396M1698.8 2386.3V2396
M205 1820.9H226M205 1949.6H226M205 2077.8H226M205 2206H226M205 2334.6H226
M1883 1820.9H1904M1883 1949.6H1904M1883 2077.8H1904M1883 2206H1904M1883 2334.6H1904"/>
</g>

<!-- ===== Tick labels ===== -->
<g font-size="40" font-weight="bold" text-anchor="end" fill="#000">
<text x="189" y="165">4</text>
<text x="189" y="285.7">2</text>
<text x="189" y="406.4">0</text>
<text x="189" y="527.1">−2</text>
<text x="189" y="647.8">−4</text>
<text x="189" y="768.5">−6</text>
<text x="189" y="1016.9">6</text>
<text x="189" y="1165.2">3</text>
<text x="189" y="1313.4">0</text>
<text x="189" y="1462.7">−3</text>
<text x="189" y="1835.9">14</text>
<text x="189" y="1964.6">7</text>
<text x="189" y="2092.8">0</text>
<text x="189" y="2221">−7</text>
<text x="189" y="2349.6">−14</text>
</g>
<g font-size="42" font-weight="bold" text-anchor="middle" fill="#000">
<text x="810" y="820.5">2025.5</text>
<text x="810" y="1637">2025.5</text>
<text x="810" y="2452">2025.5</text>
</g>

<!-- ===== Rate annotations ===== -->
<g font-size="35" font-weight="bold" text-anchor="end" fill="#000">
<text x="1817" y="157">-4.417+/- 3.584 mm/yr</text>
<text x="1817" y="974">-2.958+/- 2.241 mm/yr</text>
<text x="1817" y="2374">3.967+/- 2.926 mm/yr</text>
</g>

<!-- ===== Axis labels ===== -->
<g font-size="42" text-anchor="middle" fill="#000">
<text transform="translate(116 437.5) rotate(-90)">East (mm)</text>
<text transform="translate(116 1252.8) rotate(-90)">North (mm)</text>
<text transform="translate(89.5 2068.5) rotate(-90)">Up (mm)</text>
<text x="1056" y="2512" textLength="211">Time (year)</text>
</g>

<!-- ===== Bottom info box ===== -->
<rect x="226" y="2616.7" width="1656" height="153.3" fill="none" stroke="#000" stroke-width="5"/>
<g font-size="33" font-weight="bold" text-anchor="middle" fill="#000">
<text x="1055" y="2665" textLength="1206" lengthAdjust="spacingAndGlyphs">24 Hour Positions Using Final Orbits (blue) and Rapid Orbits (magenta).</text>
<text x="1054.5" y="2705.5" textLength="794" lengthAdjust="spacingAndGlyphs">Processed by the Nevada Geodetic Laboratory.</text>
<text x="1055" y="2746.7" textLength="819" lengthAdjust="spacingAndGlyphs">Plotted on 2026-Jan-9. Last data on 2025-Dec-20.</text>
</g>
</svg>
</body></html>
